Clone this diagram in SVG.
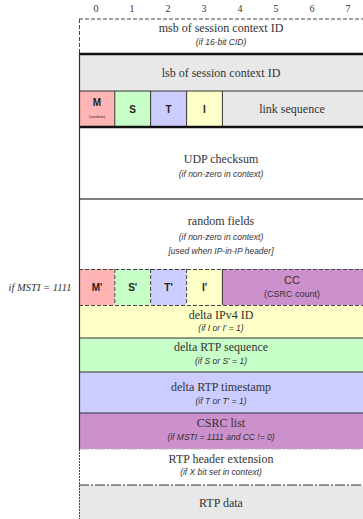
<svg xmlns="http://www.w3.org/2000/svg" width="363" height="519" viewBox="0 0 363 519">
<style>
.num{font-family:"Liberation Serif",serif;font-size:10px;fill:#333;text-anchor:middle}
.lbl{font-family:"Liberation Serif","Times New Roman",serif;font-size:12px;font-weight:normal;fill:#333;text-anchor:middle}
.sub{font-family:"Liberation Sans",sans-serif;font-size:8.5px;font-style:italic;fill:#333;text-anchor:middle}
.bold{font-family:"Liberation Sans",sans-serif;font-size:10px;font-weight:bold;fill:#222;text-anchor:middle}
.sans{font-family:"Liberation Sans",sans-serif;font-size:9px;fill:#333;text-anchor:middle}
.ln{stroke:#333;stroke-width:1;fill:none}
.dash{stroke:#444;stroke-width:1;stroke-dasharray:4,2;fill:none}
.thick{stroke:#111;stroke-width:2.5;fill:none}
</style>
<rect width="363" height="519" fill="#fff"/>
<g id="header">
<text class="num" x="96" y="12">0</text>
<text class="num" x="132" y="12">1</text>
<text class="num" x="168" y="12">2</text>
<text class="num" x="204" y="12">3</text>
<text class="num" x="240" y="12">4</text>
<text class="num" x="276" y="12">5</text>
<text class="num" x="312" y="12">6</text>
<text class="num" x="348" y="12">7</text>
</g>
<g id="msb">
<rect x="79" y="19" width="290" height="35" fill="#fff"/>
<text class="lbl" x="221" y="32">msb of session context ID</text>
<text class="sub" x="221" y="45">(if 16-bit CID)</text>
</g>
<g id="lsb">
<rect x="79" y="54" width="290" height="37" fill="#e8e8e8"/>
<text class="lbl" x="221" y="77">lsb of session context ID</text>
</g>
<g id="M"><rect x="79" y="91" width="35.8" height="36" fill="#ffb5b5"/><text class="bold" x="97" y="106">M</text><text class="sans" x="97" y="118" style="font-size:4px">(random)</text></g>
<g id="S"><rect x="114.8" y="91" width="35.8" height="36" fill="#c8ffc8"/><text class="bold" x="132.7" y="113">S</text></g>
<g id="T"><rect x="150.6" y="91" width="36" height="36" fill="#ccccff"/><text class="bold" x="168.6" y="113">T</text></g>
<g id="I"><rect x="186.6" y="91" width="35.8" height="36" fill="#ffffc8"/><text class="bold" x="204.5" y="113">I</text></g>
<g id="linkseq"><rect x="222.4" y="91" width="146" height="36" fill="#e8e8e8"/><text class="lbl" x="292" y="113">link sequence</text></g>
<g id="udp">
<text class="lbl" x="221" y="163">UDP checksum</text>
<text class="sub" x="221" y="177">(if non-zero in context)</text>
</g>
<g id="random">
<text class="lbl" x="221" y="225">random fields</text>
<text class="sub" x="221" y="240">(if non-zero in context)</text>
<text class="sub" x="221" y="254">[used when IP-in-IP header]</text>
</g>
<g id="Mp"><rect x="79" y="269" width="35.8" height="36" fill="#ffb5b5"/><text class="bold" x="97" y="291">M'</text></g>
<g id="Sp"><rect x="114.8" y="269" width="35.8" height="36" fill="#c8ffc8"/><text class="bold" x="132.7" y="291">S'</text></g>
<g id="Tp"><rect x="150.6" y="269" width="36" height="36" fill="#ccccff"/><text class="bold" x="168.6" y="291">T'</text></g>
<g id="Ip"><rect x="186.6" y="269" width="35.8" height="36" fill="#ffffc8"/><text class="bold" x="204.5" y="291">I'</text></g>
<g id="CC"><rect x="222.4" y="269" width="146" height="36" fill="#cc90cc"/><text class="sans" x="292" y="284" style="font-size:11px">CC</text><text class="sans" x="292" y="297">(CSRC count)</text></g>
<g id="cond"><text x="40" y="291" style="font-family:'Liberation Serif',serif;font-size:10.5px;font-style:italic;fill:#333;text-anchor:middle">if MSTI = 1111</text></g>
<g id="ipv4"><rect x="79" y="305" width="290" height="33" fill="#ffffc8"/><text class="lbl" x="221" y="319">delta IPv4 ID</text><text class="sub" x="221" y="331">(if I or I' = 1)</text></g>
<g id="rtpseq"><rect x="79" y="338" width="290" height="34" fill="#c8ffc8"/><text class="lbl" x="221" y="351">delta RTP sequence</text><text class="sub" x="221" y="364">(if S or S' = 1)</text></g>
<g id="rtpts"><rect x="79" y="372" width="290" height="41" fill="#ccccff"/><text class="lbl" x="221" y="391">delta RTP timestamp</text><text class="sub" x="221" y="404">(if T or T' = 1)</text></g>
<g id="csrc"><rect x="79" y="413" width="290" height="36" fill="#cc90cc"/><text class="lbl" x="221" y="427">CSRC list</text><text class="sub" x="221" y="440">(if MSTI = 1111 and CC != 0)</text></g>
<g id="ext"><text class="lbl" x="221" y="463">RTP header extension</text><text class="sub" x="221" y="475">(if X bit set in context)</text></g>
<g id="data"><rect x="79" y="485" width="290" height="40" fill="#e8e8e8"/><text class="lbl" x="221" y="507">RTP data</text></g>
<g id="connectors">
<line class="dash" x1="79" y1="19" x2="369" y2="19"/>
<line class="dash" x1="79.5" y1="19" x2="79.5" y2="54"/>
<line class="thick" x1="79" y1="54" x2="369" y2="54"/>
<line class="ln" x1="79" y1="91" x2="369" y2="91"/>
<line class="ln" x1="114.8" y1="91" x2="114.8" y2="127"/>
<line class="ln" x1="150.6" y1="91" x2="150.6" y2="127"/>
<line class="ln" x1="186.6" y1="91" x2="186.6" y2="127"/>
<line class="ln" x1="222.4" y1="91" x2="222.4" y2="127"/>
<line class="thick" x1="79" y1="127" x2="369" y2="127"/>
<line x1="79" y1="199" x2="369" y2="199" stroke="#555" stroke-width="1.5"/>
<line class="dash" x1="79" y1="269.5" x2="369" y2="269.5"/>
<line class="dash" x1="114.8" y1="269" x2="114.8" y2="305"/>
<line class="dash" x1="150.6" y1="269" x2="150.6" y2="305"/>
<line class="dash" x1="186.6" y1="269" x2="186.6" y2="305"/>
<line class="ln" x1="222.4" y1="269" x2="222.4" y2="305"/>
<line class="dash" x1="79" y1="305.5" x2="369" y2="305.5"/>
<line class="ln" x1="79" y1="338" x2="369" y2="338"/>
<line class="ln" x1="79" y1="372" x2="369" y2="372"/>
<line class="ln" x1="79" y1="413" x2="369" y2="413"/>
<line x1="79" y1="449" x2="369" y2="449" stroke="#bbb" stroke-width="1" stroke-dasharray="10,2,2,2"/>
<line x1="79" y1="485" x2="369" y2="485" stroke="#333" stroke-width="1" stroke-dasharray="10,2,2,2"/>
<line x1="79.5" y1="54" x2="79.5" y2="449" stroke="#333" stroke-width="1.2"/>
<line x1="79.5" y1="449" x2="79.5" y2="519" stroke="#444" stroke-width="1" stroke-dasharray="2,1"/>
</g>
</svg>
